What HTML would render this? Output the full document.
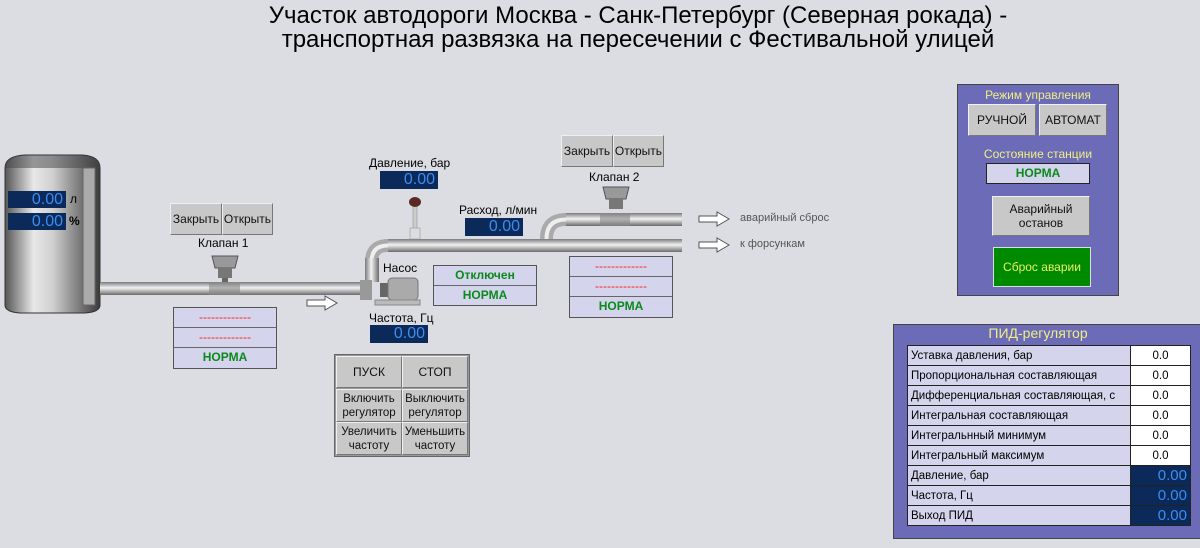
<!DOCTYPE html>
<html><head><meta charset="utf-8"><style>
body{margin:0;width:1200px;height:548px;background:#dcdde2;position:relative;overflow:hidden;font-family:"Liberation Sans",sans-serif;}
.a{position:absolute;}
.t{position:absolute;white-space:nowrap;}
.disp{position:absolute;background:#0b2a5a;color:#3c8cf0;font-size:16px;text-align:right;box-sizing:border-box;padding-right:3px;line-height:18px;}
.btn{position:absolute;background:#c8c8c8;border:1px solid #f0f0f0;border-right-color:#777;border-bottom-color:#777;box-sizing:border-box;font-size:12px;color:#111;display:flex;align-items:center;justify-content:center;text-align:center;line-height:14px;}
.st{position:absolute;border:1px solid #555;background:#d4d4ec;box-sizing:border-box;}
.st div{height:20px;border-bottom:1px solid #666;box-sizing:border-box;text-align:center;font-size:12px;line-height:19px;font-weight:bold;}
.st div:last-child{border-bottom:none}
.r{color:#ff2020;font-weight:normal!important}
.g{color:#0a8a1a}
table{border-collapse:collapse;}
td{border:1px solid #222;height:19px;padding:0 3px;font-size:11.5px;}
</style></head><body>
<div class="t" style="left:0;width:1276px;top:4px;text-align:center;font-size:24px;line-height:24px;color:#000">Участок автодороги Москва - Санк-Петербург (Северная рокада) -<br>транспортная развязка на пересечении с Фестивальной улицей</div>

<svg class="a" style="left:0;top:0" width="900" height="548">
<defs>
<linearGradient id="pv" x1="0" y1="0" x2="0" y2="1"><stop offset="0" stop-color="#7a7a7a"/><stop offset=".45" stop-color="#f2f2f2"/><stop offset="1" stop-color="#6a6a6a"/></linearGradient>
<linearGradient id="ph" x1="0" y1="0" x2="1" y2="0"><stop offset="0" stop-color="#7a7a7a"/><stop offset=".45" stop-color="#f2f2f2"/><stop offset="1" stop-color="#6a6a6a"/></linearGradient>
<linearGradient id="tk" x1="0" y1="0" x2="1" y2="0"><stop offset="0" stop-color="#555"/><stop offset=".3" stop-color="#e8e8e8"/><stop offset=".5" stop-color="#d0d0d0"/><stop offset="1" stop-color="#3a3a3a"/></linearGradient>
</defs>
<path d="M5 168 Q5 156 25 155 L82 155 Q100 156 100 168 L100 305 Q100 312 85 313 L20 313 Q5 312 5 305 Z" fill="url(#tk)" stroke="#333"/>
<path d="M5 168 Q5 156 25 155 L82 155 Q100 156 100 168 Z" fill="#444" opacity=".5"/>
<rect x="83" y="168" width="12" height="137" fill="#aaa" stroke="#666"/>
<rect x="100" y="282" width="266" height="13" fill="url(#pv)"/>
<rect x="209" y="282" width="31" height="13" fill="#888" opacity=".6"/>
<path d="M212 256 L238 256 L235 268 L215 268 Z" fill="#999" stroke="#555"/>
<rect x="218" y="268" width="14" height="10" fill="#777"/>
<rect x="222" y="278" width="6" height="4" fill="#666"/>
<path d="M371.5 262 L371.5 262 Q371.5 245.5 388 245.5" fill="none" stroke="#aaa" stroke-width="13"/>
<path d="M371.5 262 Q371.5 245.5 388 245.5" fill="none" stroke="#eee" stroke-width="4"/>
<rect x="365" y="258" width="14" height="24" fill="url(#ph)"/>
<rect x="388" y="239" width="294" height="13" fill="url(#pv)"/>
<path d="M546.5 239 Q546.5 219.5 566 219.5" fill="none" stroke="#aaa" stroke-width="13"/>
<path d="M546.5 239 Q546.5 219.5 566 219.5" fill="none" stroke="#eee" stroke-width="4"/>
<rect x="566" y="213" width="116" height="13" fill="url(#pv)"/>
<rect x="600" y="213" width="30" height="13" fill="#888" opacity=".6"/>
<path d="M603 187 L629 187 L626 199 L606 199 Z" fill="#999" stroke="#555"/>
<rect x="609" y="199" width="14" height="10" fill="#777"/>
<rect x="413" y="205" width="4" height="24" fill="#ccc" stroke="#888" stroke-width=".5"/>
<rect x="410" y="228" width="10" height="11" fill="#ddd" stroke="#888" stroke-width=".5"/>
<ellipse cx="415" cy="202" rx="6" ry="5" fill="#5a2a22"/>
<rect x="360" y="280" width="12" height="20" fill="#999"/>
<rect x="380" y="283" width="8" height="14" fill="#666"/>
<rect x="388" y="278" width="30" height="22" rx="4" fill="#aaa" stroke="#777"/>
<rect x="375" y="300" width="45" height="5" fill="#bbb" stroke="#888"/>
<g fill="#fff" stroke="#555">
<path d="M307 300 L325 300 L325 296 L337 303 L325 310 L325 306 L307 306 Z"/>
<path d="M699 216 L717 216 L717 212 L729 219 L717 226 L717 222 L699 222 Z"/>
<path d="M699 242 L717 242 L717 238 L729 245 L717 252 L717 248 L699 248 Z"/>
</g>
</svg>

<div class="disp" style="left:8px;top:191px;width:58px;height:17px">0.00</div>
<div class="disp" style="left:8px;top:213px;width:58px;height:17px">0.00</div>
<div class="t" style="left:70px;top:192px;font-size:12px">л</div>
<div class="t" style="left:69px;top:214px;font-size:12px;font-weight:bold">%</div>

<div class="btn" style="left:170px;top:203px;width:52px;height:32px">Закрыть</div>
<div class="btn" style="left:222px;top:203px;width:51px;height:32px">Открыть</div>
<div class="t" style="left:198px;top:236px;font-size:12px">Клапан 1</div>
<div class="st" style="left:173px;top:307px;width:104px;height:62px"><div class="r">-------------</div><div class="r">-------------</div><div class="g">НОРМА</div></div>

<div class="btn" style="left:561px;top:135px;width:52px;height:32px">Закрыть</div>
<div class="btn" style="left:613px;top:135px;width:51px;height:32px">Открыть</div>
<div class="t" style="left:589px;top:170px;font-size:12px">Клапан 2</div>
<div class="st" style="left:569px;top:256px;width:104px;height:62px"><div class="r">-------------</div><div class="r">-------------</div><div class="g">НОРМА</div></div>

<div class="t" style="left:369px;top:156px;font-size:12px">Давление, бар</div>
<div class="disp" style="left:380px;top:171px;width:58px;height:18px">0.00</div>
<div class="t" style="left:459px;top:203px;font-size:12px">Расход, л/мин</div>
<div class="disp" style="left:465px;top:218px;width:58px;height:18px">0.00</div>
<div class="t" style="left:383px;top:261px;font-size:12px">Насос</div>
<div class="st" style="left:433px;top:265px;width:104px;height:41px"><div class="g">Отключен</div><div class="g">НОРМА</div></div>
<div class="t" style="left:369px;top:311px;font-size:12px">Частота, Гц</div>
<div class="disp" style="left:370px;top:325px;width:58px;height:18px">0.00</div>
<div class="t" style="left:740px;top:212px;font-size:11px;color:#555">аварийный сброс</div>
<div class="t" style="left:740px;top:238px;font-size:11px;color:#555">к форсункам</div>

<div class="a" style="left:334px;top:354px;width:136px;height:103px;background:#999;border:1px solid #666;box-sizing:border-box"></div>
<div class="btn" style="left:336px;top:356px;width:66px;height:32px">ПУСК</div>
<div class="btn" style="left:402px;top:356px;width:66px;height:32px">СТОП</div>
<div class="btn" style="left:336px;top:389px;width:66px;height:33px;font-size:11.5px">Включить регулятор</div>
<div class="btn" style="left:402px;top:389px;width:66px;height:33px;font-size:11.5px">Выключить регулятор</div>
<div class="btn" style="left:336px;top:422px;width:66px;height:33px;font-size:11.5px">Увеличить частоту</div>
<div class="btn" style="left:402px;top:422px;width:66px;height:33px;font-size:11.5px">Уменьшить частоту</div>

<div class="a" style="left:957px;top:84px;width:162px;height:212px;background:#6b6bb8;border:1px solid #444;box-sizing:border-box"></div>
<div class="t" style="left:957px;width:162px;top:88px;text-align:center;font-size:12px;color:#f0f080">Режим управления</div>
<div class="btn" style="left:968px;top:104px;width:68px;height:32px">РУЧНОЙ</div>
<div class="btn" style="left:1039px;top:104px;width:68px;height:32px">АВТОМАТ</div>
<div class="t" style="left:957px;width:162px;top:147px;text-align:center;font-size:12px;color:#f0f080">Состояние станции</div>
<div class="st" style="left:986px;top:163px;width:104px;height:21px;border-color:#222"><div class="g">НОРМА</div></div>
<div class="btn" style="left:992px;top:196px;width:98px;height:40px">Аварийный<br>останов</div>
<div class="btn" style="left:993px;top:247px;width:98px;height:40px;background:#008a00;color:#e8f060;border-color:#ddd">Сброс аварии</div>

<div class="a" style="left:893px;top:324px;width:310px;height:215px;background:#6b6bb8;border:1px solid #444;box-sizing:border-box"></div>
<div class="t" style="left:893px;width:290px;top:325px;text-align:center;font-size:14px;color:#f0f080">ПИД-регулятор</div>
<table class="a" style="left:907px;top:345px;width:284px">
<tr><td style="background:#d4d4ec;width:216px">Уставка давления, бар</td><td style="background:#fff;text-align:center">0.0</td></tr>
<tr><td style="background:#d4d4ec">Пропорциональная составляющая</td><td style="background:#fff;text-align:center">0.0</td></tr>
<tr><td style="background:#d4d4ec">Дифференциальная составляющая, с</td><td style="background:#fff;text-align:center">0.0</td></tr>
<tr><td style="background:#d4d4ec">Интегральная составляющая</td><td style="background:#fff;text-align:center">0.0</td></tr>
<tr><td style="background:#d4d4ec">Интегральнный минимум</td><td style="background:#fff;text-align:center">0.0</td></tr>
<tr><td style="background:#d4d4ec">Интегральный максимум</td><td style="background:#fff;text-align:center">0.0</td></tr>
<tr><td style="background:#d4d4ec">Давление, бар</td><td style="background:#0b2a5a;color:#3c8cf0;text-align:right;font-size:15px">0.00</td></tr>
<tr><td style="background:#d4d4ec">Частота, Гц</td><td style="background:#0b2a5a;color:#3c8cf0;text-align:right;font-size:15px">0.00</td></tr>
<tr><td style="background:#d4d4ec">Выход ПИД</td><td style="background:#0b2a5a;color:#3c8cf0;text-align:right;font-size:15px">0.00</td></tr>
</table>
</body></html>
